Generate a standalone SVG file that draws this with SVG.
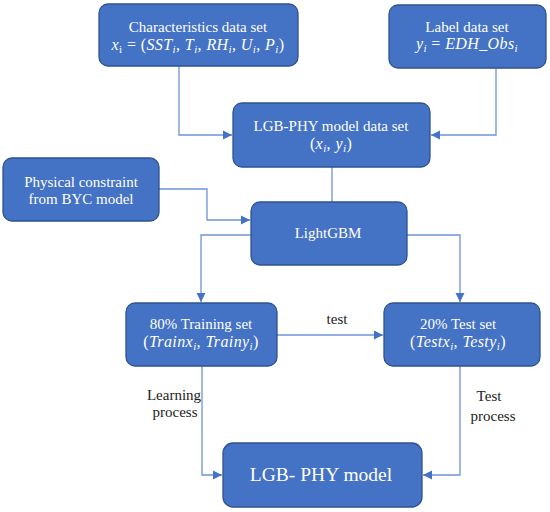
<svg xmlns="http://www.w3.org/2000/svg" width="550" height="512" viewBox="0 0 550 512">
<defs>
<marker id="ah" markerWidth="10" markerHeight="10" refX="9" refY="5" orient="auto" markerUnits="userSpaceOnUse">
<path d="M0,0.5 L9,5 L0,9.5 Z" fill="#4472C4"/>
</marker>
</defs>
<rect width="550" height="512" fill="#fff"/>
<g id="connectors" fill="none" stroke="#6F93D6" stroke-width="1.3">
<polyline points="179,66 179,135 232,135" marker-end="url(#ah)"/>
<polyline points="496,68 496,135 431,135" marker-end="url(#ah)"/>
<line x1="332" y1="167" x2="332" y2="202"/>
<polyline points="159,189 207,189 207,220 250,220" marker-end="url(#ah)"/>
<polyline points="251,235 201,235 201,302" marker-end="url(#ah)"/>
<polyline points="407,235 460,235 460,302" marker-end="url(#ah)"/>
<line x1="277" y1="335" x2="383" y2="335" marker-end="url(#ah)"/>
<polyline points="202,366 202,475 222,475" marker-end="url(#ah)"/>
<polyline points="460,366 460,475 423,475" marker-end="url(#ah)"/>
</g>
<g id="connector-labels" fill="#222" stroke="none" text-anchor="middle">
<text x="337" y="324" font-family="Liberation Serif" font-size="15">test</text>
<text x="174" y="400" font-family="Liberation Serif" font-size="15">Learning</text>
<text x="175" y="417" font-family="Liberation Serif" font-size="15">process</text>
<text x="489" y="401" font-family="Liberation Serif" font-size="15">Test</text>
<text x="493" y="421" font-family="Liberation Serif" font-size="15">process</text>
</g>
<g id="characteristics">
<rect x="99" y="4" width="199" height="62" rx="9" fill="#4472C4" stroke="#2F528F" stroke-width="1.3"/>
<text x="198" y="32" fill="#fff" text-anchor="middle" font-family="Liberation Serif" font-size="15">Characteristics data set</text>
<text x="198" y="50" fill="#fff" text-anchor="middle" font-family="Liberation Serif" font-size="16" letter-spacing="0.4"><tspan font-style="italic">x</tspan><tspan font-size="11" dy="3">i</tspan><tspan dy="-3"> = (</tspan><tspan font-style="italic">SST</tspan><tspan font-style="italic" font-size="11" dy="3">i</tspan><tspan dy="-3">, </tspan><tspan font-style="italic">T</tspan><tspan font-style="italic" font-size="11" dy="3">i</tspan><tspan dy="-3">, </tspan><tspan font-style="italic">RH</tspan><tspan font-style="italic" font-size="11" dy="3">i</tspan><tspan dy="-3">, </tspan><tspan font-style="italic">U</tspan><tspan font-style="italic" font-size="11" dy="3">i</tspan><tspan dy="-3">, </tspan><tspan font-style="italic">P</tspan><tspan font-style="italic" font-size="11" dy="3">i</tspan><tspan dy="-3">)</tspan></text>
</g>
<g id="label">
<rect x="389" y="5" width="157" height="63" rx="9" fill="#4472C4" stroke="#2F528F" stroke-width="1.3"/>
<text x="467" y="32" fill="#fff" text-anchor="middle" font-family="Liberation Serif" font-size="15">Label data set</text>
<text x="467" y="49" fill="#fff" text-anchor="middle" font-family="Liberation Serif" font-size="16" letter-spacing="0.4"><tspan font-style="italic">y</tspan><tspan font-style="italic" font-size="11" dy="3">i</tspan><tspan dy="-3"> = </tspan><tspan font-style="italic">EDH_Obs</tspan><tspan font-style="italic" font-size="11" dy="3">i</tspan></text>
</g>
<g id="dataset">
<rect x="233" y="103" width="197" height="64" rx="9" fill="#4472C4" stroke="#2F528F" stroke-width="1.3"/>
<text x="331" y="131" fill="#fff" text-anchor="middle" font-family="Liberation Serif" font-size="15">LGB-PHY model data set</text>
<text x="331" y="149" fill="#fff" text-anchor="middle" font-family="Liberation Serif" font-size="16" letter-spacing="0.4"><tspan>(</tspan><tspan font-style="italic">x</tspan><tspan font-style="italic" font-size="11" dy="3">i</tspan><tspan dy="-3">, </tspan><tspan font-style="italic">y</tspan><tspan font-style="italic" font-size="11" dy="3">i</tspan><tspan dy="-3">)</tspan></text>
</g>
<g id="physical">
<rect x="3" y="158" width="156" height="63" rx="9" fill="#4472C4" stroke="#2F528F" stroke-width="1.3"/>
<text x="81" y="187" fill="#fff" text-anchor="middle" font-family="Liberation Serif" font-size="15">Physical constraint</text>
<text x="81" y="204" fill="#fff" text-anchor="middle" font-family="Liberation Serif" font-size="15">from BYC model</text>
</g>
<g id="lightgbm">
<rect x="251" y="202" width="156" height="63" rx="9" fill="#4472C4" stroke="#2F528F" stroke-width="1.3"/>
<text x="328" y="238" fill="#fff" text-anchor="middle" font-family="Liberation Serif" font-size="15">LightGBM</text>
</g>
<g id="training">
<rect x="126" y="303" width="151" height="63" rx="9" fill="#4472C4" stroke="#2F528F" stroke-width="1.3"/>
<text x="201" y="329" fill="#fff" text-anchor="middle" font-family="Liberation Serif" font-size="15">80% Training set</text>
<text x="201" y="347" fill="#fff" text-anchor="middle" font-family="Liberation Serif" font-size="16" letter-spacing="0.4"><tspan>(</tspan><tspan font-style="italic">Trainx</tspan><tspan font-style="italic" font-size="11" dy="3">i</tspan><tspan dy="-3">, </tspan><tspan font-style="italic">Trainy</tspan><tspan font-style="italic" font-size="11" dy="3">i</tspan><tspan dy="-3">)</tspan></text>
</g>
<g id="testset">
<rect x="384" y="303" width="156" height="63" rx="9" fill="#4472C4" stroke="#2F528F" stroke-width="1.3"/>
<text x="458" y="329" fill="#fff" text-anchor="middle" font-family="Liberation Serif" font-size="15">20% Test set</text>
<text x="458" y="347" fill="#fff" text-anchor="middle" font-family="Liberation Serif" font-size="16" letter-spacing="0.4"><tspan>(</tspan><tspan font-style="italic">Testx</tspan><tspan font-style="italic" font-size="11" dy="3">i</tspan><tspan dy="-3">, </tspan><tspan font-style="italic">Testy</tspan><tspan font-style="italic" font-size="11" dy="3">i</tspan><tspan dy="-3">)</tspan></text>
</g>
<g id="model">
<rect x="223" y="443" width="199" height="64" rx="10" fill="#4472C4" stroke="#2F528F" stroke-width="1.3"/>
<text x="321" y="481" fill="#fff" text-anchor="middle" font-family="Liberation Serif" font-size="19.5">LGB- PHY model</text>
</g>
</svg>
